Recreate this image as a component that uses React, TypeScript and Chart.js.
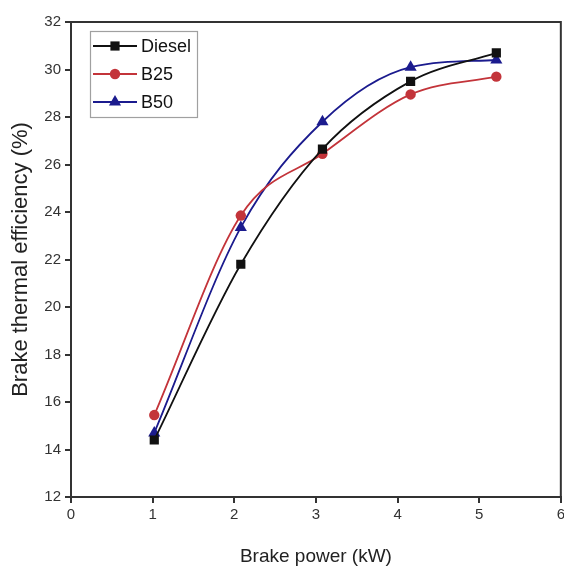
import React, { useEffect, useRef } from "react";
import { Chart, registerables } from "chart.js";

Chart.register(...registerables);

const brakePower = [1.02, 2.08, 3.08, 4.16, 5.21];
const diesel = [14.4, 21.8, 26.65, 29.5, 30.7];
const b25 = [15.45, 23.85, 26.45, 28.95, 29.7];
const b50 = [14.7, 23.35, 27.8, 30.1, 30.4];
const seriesNames = ["Diesel", "B25", "B50"];
const xTitle = "Brake power (kW)";
const yTitle = "Brake thermal efficiency (%)";

const colors = ["#111111", "#c3343a", "#1b1b8e"];
const styles = ["rect", "circle", "triangle"];
const radii = [6.5, 5.2, 7];
const FONT = "'Liberation Sans', Arial, sans-serif";

function drawMarker(ctx: CanvasRenderingContext2D, style: string, x: number, y: number, r: number, color: string) {
  ctx.save();
  ctx.fillStyle = color;
  ctx.beginPath();
  if (style === "rect") {
    const s = Math.SQRT1_2 * r;
    ctx.rect(x - s, y - s, 2 * s, 2 * s);
  } else if (style === "circle") {
    ctx.arc(x, y, r, 0, Math.PI * 2);
  } else {
    const h = r * 1.5;
    ctx.moveTo(x, y - r);
    ctx.lineTo(x + (r * Math.sqrt(3)) / 2, y + h - r);
    ctx.lineTo(x - (r * Math.sqrt(3)) / 2, y + h - r);
    ctx.closePath();
  }
  ctx.fill();
  ctx.restore();
}

const framePlugin = {
  id: "frameAndLegend",
  afterDraw(chart: any) {
    const { ctx, chartArea } = chart;
    ctx.save();
    ctx.strokeStyle = "#333";
    ctx.lineWidth = 2;
    ctx.beginPath();
    ctx.moveTo(chartArea.left, chartArea.top);
    ctx.lineTo(chartArea.right, chartArea.top);
    ctx.lineTo(chartArea.right, chartArea.bottom);
    ctx.stroke();

    // legend box
    const bx = 90, by = 31, bw = 107, bh = 86;
    ctx.fillStyle = "#fff";
    ctx.fillRect(bx, by, bw, bh);
    ctx.strokeStyle = "#a0a0a0";
    ctx.lineWidth = 1.2;
    ctx.strokeRect(bx + 0.5, by + 0.5, bw, bh);
    const rows = [46, 74, 102];
    seriesNames.forEach((name, i) => {
      const y = rows[i];
      ctx.strokeStyle = colors[i];
      ctx.lineWidth = 2;
      ctx.beginPath();
      ctx.moveTo(93, y);
      ctx.lineTo(137, y);
      ctx.stroke();
      drawMarker(ctx, styles[i], 115, y, radii[i], colors[i]);
      ctx.fillStyle = "#111";
      ctx.font = `18px ${FONT}`;
      ctx.textBaseline = "middle";
      ctx.textAlign = "left";
      ctx.fillText(name, 141, y + 1);
    });
    ctx.restore();
  },
};

export default function App() {
  const ref = useRef<HTMLCanvasElement>(null);
  useEffect(() => {
    if (!ref.current) return;
    const mk = (vals: number[]) => brakePower.map((x, i) => ({ x, y: vals[i] }));
    const all = [diesel, b25, b50];
    const chart = new Chart(ref.current, {
      type: "line",
      data: {
        datasets: all.map((vals, i) => ({
          label: seriesNames[i],
          data: mk(vals),
          borderColor: colors[i],
          backgroundColor: colors[i],
          borderWidth: 1.8,
          pointStyle: styles[i] as any,
          pointRadius: radii[i],
          pointBorderWidth: 0,
          cubicInterpolationMode: "monotone" as const,
          fill: false,
        })),
      },
      options: {
        responsive: false,
        animation: false,
        layout: { padding: { top: 22, right: 0, left: 0, bottom: 0 } },
        plugins: { legend: { display: false }, tooltip: { enabled: false } },
        scales: {
          x: {
            type: "linear",
            min: 0,
            max: 6,
            ticks: { stepSize: 1, font: { size: 15, family: FONT }, color: "#333", padding: 3, maxRotation: 0 },
            grid: { drawOnChartArea: false, drawTicks: true, tickLength: 6, color: "#333", lineWidth: 2 },
            border: { display: true, color: "#333", width: 2 },
            title: { display: true, text: xTitle, font: { size: 19, family: FONT }, color: "#222", padding: { top: 0, bottom: 0 } },
            afterFit: (s: any) => {
              s.height = 71;
            },
          },
          y: {
            type: "linear",
            min: 12,
            max: 32,
            ticks: { stepSize: 2, font: { size: 15, family: FONT }, color: "#333", padding: 4 },
            grid: { drawOnChartArea: false, drawTicks: true, tickLength: 6, color: "#333", lineWidth: 2 },
            border: { display: true, color: "#333", width: 2 },
            title: { display: true, text: yTitle, font: { size: 22, family: FONT }, color: "#222", padding: { top: 8, bottom: 0 } },
            afterFit: (s: any) => {
              s.width = 71;
            },
          },
        },
      },
      plugins: [framePlugin],
    });
    return () => chart.destroy();
  }, []);
  return (
    <div style={{ position: "fixed", left: 0, top: 0, width: 564, height: 568, overflow: "hidden", background: "#fff" }}>
      <canvas ref={ref} width={568} height={568} style={{ display: "block" }} />
    </div>
  );
}
